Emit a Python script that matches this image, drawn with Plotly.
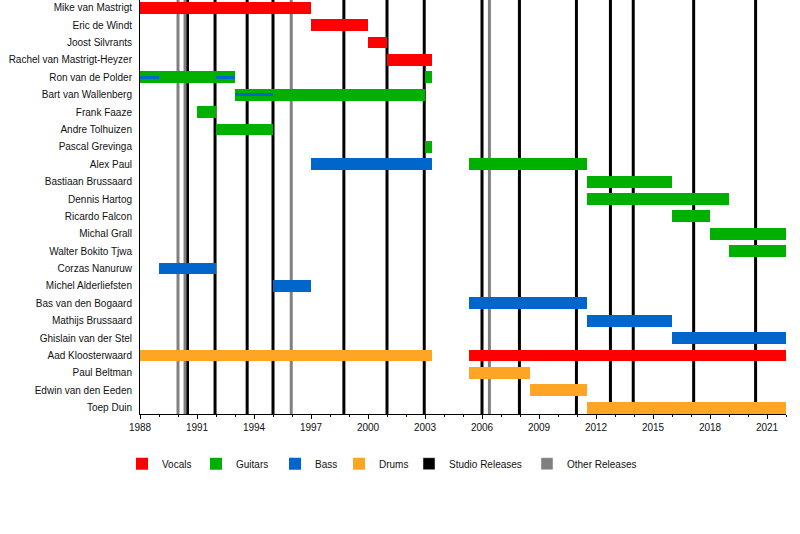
import plotly.graph_objects as go

# band members, top to bottom
members = ["Mike van Mastrigt", "Eric de Windt", "Joost Silvrants", "Rachel van Mastrigt-Heyzer",
           "Ron van de Polder", "Bart van Wallenberg", "Frank Faaze", "Andre Tolhuizen",
           "Pascal Grevinga", "Alex Paul", "Bastiaan Brussaard", "Dennis Hartog",
           "Ricardo Falcon", "Michal Grall", "Walter Bokito Tjwa", "Corzas Nanuruw",
           "Michel Alderliefsten", "Bas van den Bogaard", "Mathijs Brussaard",
           "Ghislain van der Stel", "Aad Kloosterwaard", "Paul Beltman",
           "Edwin van den Eeden", "Toep Duin"]

vocals_who = ["Mike van Mastrigt", "Eric de Windt", "Joost Silvrants", "Rachel van Mastrigt-Heyzer", "Aad Kloosterwaard"]
vocals_from = [1988, 1997, 2000, 2001, 2005.32]
vocals_to = [1997, 2000, 2001, 2003.37, 2022]

guitars_who = ["Ron van de Polder", "Ron van de Polder", "Bart van Wallenberg", "Frank Faaze", "Andre Tolhuizen",
               "Pascal Grevinga", "Alex Paul", "Bastiaan Brussaard", "Dennis Hartog", "Ricardo Falcon",
               "Michal Grall", "Walter Bokito Tjwa"]
guitars_from = [1988, 2003, 1993, 1991, 1992, 2003, 2005.32, 2011.5, 2011.5, 2016, 2018, 2019]
guitars_to = [1993, 2003.37, 2003, 1992, 1995, 2003.37, 2011.5, 2016, 2019, 2018, 2022, 2022]

bass_who = ["Alex Paul", "Corzas Nanuruw", "Michel Alderliefsten", "Bas van den Bogaard", "Mathijs Brussaard", "Ghislain van der Stel"]
bass_from = [1997, 1989, 1995, 2005.32, 2011.5, 2016]
bass_to = [2003.37, 1992, 1997, 2011.5, 2016, 2022]

# secondary bass duties (thin line over guitar bar)
bass2_who = ["Ron van de Polder", "Ron van de Polder", "Bart van Wallenberg"]
bass2_from = [1988, 1992, 1993]
bass2_to = [1989, 1993, 1995]

drums_who = ["Aad Kloosterwaard", "Paul Beltman", "Edwin van den Eeden", "Toep Duin"]
drums_from = [1988, 2005.32, 2008.5, 2011.5]
drums_to = [2003.37, 2008.5, 2011.5, 2022]

studio_releases = [1990.5, 1991.95, 1993.64, 1995.0, 1998.73, 2001.0, 2002.96,
                   2006.0, 2007.97, 2010.97, 2012.76, 2013.96, 2017.14, 2020.4]
other_releases = [1990.0, 1990.37, 1995.96, 2006.39]

RED = "#ff0000"
GREEN = "#00b000"
BLUE = "#0066cc"
ORANGE = "#ffa526"

fig = go.Figure()


def role(name, who, start, end, color, width, legend, show=True):
    fig.add_trace(go.Bar(
        y=who, base=start, x=[e - s for s, e in zip(start, end)],
        orientation="h", marker_color=color, marker_line_width=0,
        width=width, name=name, showlegend=show, legend=legend,
        hoverinfo="skip",
    ))


role("Vocals", vocals_who, vocals_from, vocals_to, RED, 0.68, "legend")
role("Guitars", guitars_who, guitars_from, guitars_to, GREEN, 0.68, "legend2")
role("Bass", bass_who, bass_from, bass_to, BLUE, 0.68, "legend3")
role("Bass2", bass2_who, bass2_from, bass2_to, BLUE, 0.17, "legend3", show=False)
role("Drums", drums_who, drums_from, drums_to, ORANGE, 0.68, "legend4")

# legend-only entries for the release lines
fig.add_trace(go.Bar(y=[None], x=[None], name="Studio Releases", marker_color="black",
                     legend="legend5", orientation="h"))
fig.add_trace(go.Bar(y=[None], x=[None], name="Other Releases", marker_color="#808080",
                     legend="legend6", orientation="h"))

for yr in studio_releases:
    fig.add_shape(type="line", xref="x", yref="paper", x0=yr, x1=yr, y0=0, y1=1,
                  line=dict(color="black", width=3), layer="below")
for yr in other_releases:
    fig.add_shape(type="line", xref="x", yref="paper", x0=yr, x1=yr, y0=0, y1=1,
                  line=dict(color="#808080", width=3), layer="below")

font = dict(family="Liberation Sans, Arial, sans-serif", size=10, color="#111")
legend_x = [136, 210, 289, 353, 423, 541]
leg = {}
for i, px in enumerate(legend_x):
    key = "legend" if i == 0 else f"legend{i + 1}"
    leg[key] = dict(x=(px - 14 - 140) / 646, xanchor="left", y=-0.12, yanchor="middle",
                    orientation="h", font=font, bgcolor="rgba(0,0,0,0)",
                    itemclick=False, itemdoubleclick=False)

fig.update_layout(
    width=800, height=534,
    margin=dict(l=140, r=14, t=0, b=120, autoexpand=False),
    plot_bgcolor="white", paper_bgcolor="white",
    barmode="overlay", bargap=0,
    font=font,
    **leg,
)
fig.update_xaxes(
    range=[1988, 2022], tick0=1988, dtick=3, showgrid=False, zeroline=False,
    showline=True, linecolor="black", linewidth=1, automargin=False,
    ticks="outside", ticklen=4, tickcolor="black",
    minor=dict(dtick=1, ticks="outside", ticklen=2, tickcolor="black"),
    tickfont=font,
)
fig.update_yaxes(
    type="category", categoryorder="array", categoryarray=members,
    range=[23.36, -0.44], showgrid=False, zeroline=False,
    showline=True, linecolor="black", linewidth=1, automargin=False,
    ticks="outside", ticklen=5, tickcolor="rgba(0,0,0,0)",
    tickfont=font,
)

fig.write_html("out.html", config={"displayModeBar": False},
               post_script="document.body.style.margin='0';")
